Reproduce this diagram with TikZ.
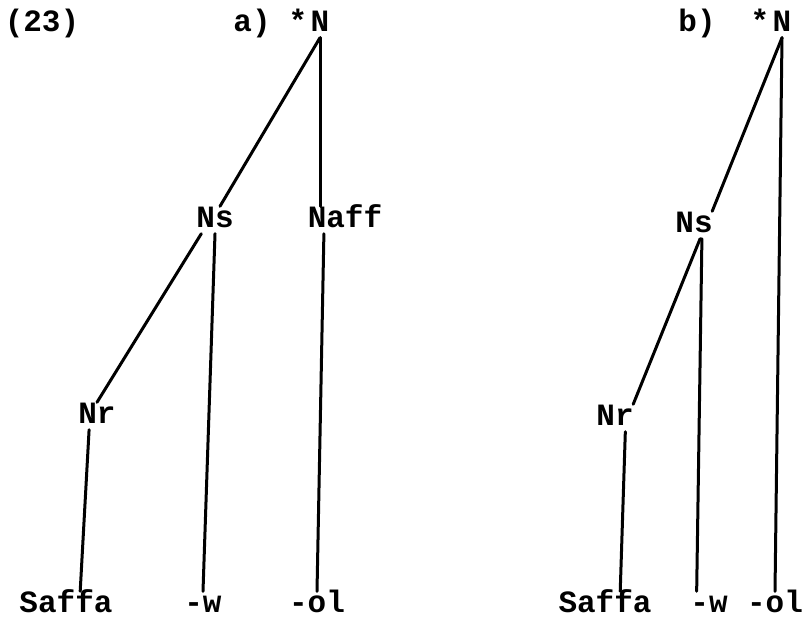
\documentclass[tikz,border=0pt]{standalone}
\usepackage{fontspec}
\setmonofont{Liberation Mono}
\tikzset{
  word/.style={font=\ttfamily\bfseries\fontsize{31}{31}\selectfont,
               inner sep=3pt, text height=18pt, text depth=3pt},
  branch/.style={line width=3pt, black, line cap=round},
}
\begin{document}
\begin{tikzpicture}[x=1pt, y=-1pt]
  \useasboundingbox (0,0) rectangle (805,620);

  \node[word] (num) at (42,24) {(23)};

  % tree a
  \node[word] (taga) at (252,24) {a)};
  \node[word, label={[word, inner sep=0pt]left:*}] (Na) at (320,24) {N};
  \node[word] (Nsa) at (215,220) {Ns};
  \node[word] (Naff) at (345,220) {Naff};
  \node[word] (Nra) at (97,416) {Nr};
  \node[word] (Saffaa) at (66,605) {Saffa};
  \node[word] (wa) at (203,605) {-w};
  \node[word] (ola) at (317,605) {-ol};

  \draw[branch] (Na.south) -- (Nsa.70);
  \draw[branch] (Na.south) -- (Na.south |- Naff.north);
  \draw[branch] (Nsa.-135) -- (Nra.north);
  \draw[branch] (Nsa.south) -- (wa.north);
  \draw[branch] (Naff.-147) -- (ola.north);
  \draw[branch] (Nra.-120) -- (Saffaa.44);

  % tree b
  \node[word] (tagb) at (697,24) {b)};
  \node[word, label={[word, inner sep=0pt]left:*}] (Nb) at (782,24) {N};
  \node[word] (Nsb) at (694,225) {Ns};
  \node[word] (Nrb) at (615,418) {Nr};
  \node[word] (Saffab) at (605,605) {Saffa};
  \node[word] (wb) at (709,605) {-w};
  \node[word] (olb) at (775,605) {-ol};

  \draw[branch] (Nb.south) -- (Nsb.37);
  \draw[branch] (Nb.south) -- (olb.north);
  \draw[branch] (Nsb.-66) -- (Nrb.37);
  \draw[branch] (Nsb.-60) -- (wb.132);
  \draw[branch] (Nrb.-53) -- (Saffab.42);
\end{tikzpicture}
\end{document}
